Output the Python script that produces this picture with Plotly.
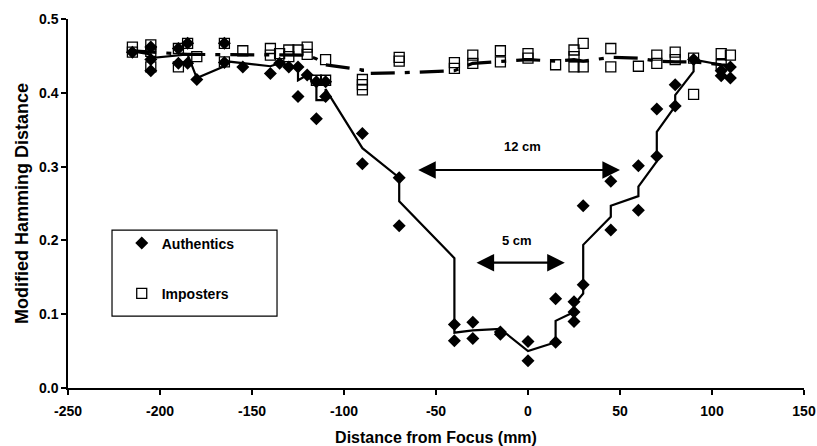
import plotly.graph_objects as go

# Authentics (filled diamonds)
auth_x = [-215, -205, -205, -205, -190, -190, -185, -185, -180, -165, -165, -155, -140, -135, -130,
          -125, -125, -120, -115, -115, -110, -110, -90, -90, -70, -70, -40, -40, -30, -30,
          -15, -15, 0, 0, 15, 15, 25, 25, 25, 30, 30, 45, 45, 60, 60, 70, 70, 80, 80, 90,
          105, 105, 110, 110]
auth_y = [0.455, 0.462, 0.445, 0.430, 0.460, 0.440, 0.467, 0.440, 0.418, 0.467, 0.441, 0.435, 0.426, 0.440, 0.435,
          0.435, 0.395, 0.424, 0.415, 0.365, 0.415, 0.395, 0.345, 0.304, 0.285, 0.220, 0.086, 0.064, 0.089, 0.067,
          0.076, 0.073, 0.063, 0.037, 0.121, 0.062, 0.117, 0.103, 0.090, 0.247, 0.140, 0.280, 0.214, 0.301, 0.241,
          0.378, 0.314, 0.411, 0.382, 0.445, 0.423, 0.430, 0.435, 0.420]

# Imposters (open squares)
imp_x = [-215, -215, -205, -205, -205, -190, -190, -185, -180, -165, -165, -155, -140, -140, -135,
         -130, -130, -125, -120, -120, -115, -110, -110, -90, -90, -90, -70, -70, -40, -40,
         -30, -30, -15, -15, 0, 0, 15, 25, 25, 25, 30, 30, 45, 45, 60, 70, 70, 80, 80,
         90, 90, 105, 105, 110]
imp_y = [0.462, 0.455, 0.465, 0.456, 0.435, 0.460, 0.435, 0.467, 0.449, 0.467, 0.442, 0.457, 0.460, 0.451, 0.453,
         0.458, 0.449, 0.458, 0.462, 0.452, 0.417, 0.445, 0.417, 0.418, 0.411, 0.404, 0.448, 0.443, 0.441, 0.433,
         0.451, 0.440, 0.457, 0.442, 0.453, 0.447, 0.438, 0.458, 0.449, 0.435, 0.467, 0.435, 0.460, 0.435, 0.436,
         0.451, 0.440, 0.455, 0.445, 0.447, 0.398, 0.453, 0.438, 0.451]

# Trend line through authentics
auth_line_x = [-215, -205, -205, -190, -185, -180, -165, -165, -155, -140, -135, -130, -125, -125, -120,
               -115, -115, -110, -110, -90, -70, -70, -40, -40, -30, -15, 0, 15, 15, 25, 25, 30, 30,
               45, 45, 60, 60, 70, 70, 80, 80, 90, 90, 105, 110]
auth_line_y = [0.456, 0.452, 0.447, 0.450, 0.452, 0.420, 0.436, 0.443, 0.440, 0.436, 0.440, 0.436, 0.434, 0.417, 0.424,
               0.408, 0.390, 0.390, 0.405, 0.325, 0.285, 0.253, 0.176, 0.075, 0.078, 0.080, 0.050, 0.062, 0.091, 0.103, 0.113, 0.128, 0.194,
               0.232, 0.247, 0.260, 0.273, 0.307, 0.347, 0.382, 0.397, 0.429, 0.445, 0.438, 0.434]

# Trend line through imposters (dashed)
imp_line_x = [-215, -205, -190, -185, -180, -165, -155, -140, -130, -120, -115, -110, -90, -90, -70,
              -40, -30, -15, 0, 15, 25, 30, 45, 60, 70, 80, 90, 105, 110]
imp_line_y = [0.457, 0.455, 0.453, 0.452, 0.452, 0.452, 0.452, 0.452, 0.451, 0.451, 0.446, 0.438, 0.431, 0.426, 0.427,
              0.430, 0.440, 0.443, 0.445, 0.443, 0.445, 0.443, 0.448, 0.447, 0.443, 0.442, 0.442, 0.438, 0.437]

x_ticks = [-250, -200, -150, -100, -50, 0, 50, 100, 150]
y_ticks = [0.0, 0.1, 0.2, 0.3, 0.4, 0.5]

FONT = "Liberation Sans, Arial, sans-serif"

fig = go.Figure()
fig.add_trace(go.Scatter(x=auth_x, y=auth_y, mode="markers", name="Authentics",
                         legendgroup="a",
                         marker=dict(symbol="diamond", size=10, color="black")))
fig.add_trace(go.Scatter(x=imp_x, y=imp_y, mode="markers", name="Imposters",
                         legendgroup="b",
                         marker=dict(symbol="square-open", size=10, color="black",
                                     line=dict(width=1.3, color="black"))))
fig.add_trace(go.Scatter(x=auth_line_x, y=auth_line_y, mode="lines", showlegend=False,
                         line=dict(color="black", width=2.2)))
fig.add_trace(go.Scatter(x=imp_line_x, y=imp_line_y, mode="lines", showlegend=False,
                         line=dict(color="black", width=3.2, dash="24px,10px,5px,10px")))

# legend box
fig.add_shape(type="rect", xref="paper", yref="paper", x0=0.0598, x1=0.284, y0=0.195, y1=0.428,
              line=dict(color="black", width=1.2), fillcolor="rgba(0,0,0,0)")

ann_font = dict(family=FONT, size=13, color="black", weight="bold")
fig.add_annotation(x=50, y=0.2954, ax=-60.5, ay=0.2954, xref="x", yref="y", axref="x", ayref="y",
                   text="", showarrow=True, arrowhead=2, startarrowhead=2, arrowside="end+start",
                   arrowsize=1.6, startarrowsize=1.6, arrowwidth=2.2, arrowcolor="black")
fig.add_annotation(x=-3, y=0.327, text="12 cm", showarrow=False, font=ann_font)
fig.add_annotation(x=20, y=0.1698, ax=-28.8, ay=0.1698, xref="x", yref="y", axref="x", ayref="y",
                   text="", showarrow=True, arrowhead=2, startarrowhead=2, arrowside="end+start",
                   arrowsize=1.6, startarrowsize=1.6, arrowwidth=2.2, arrowcolor="black")
fig.add_annotation(x=-6, y=0.1996, text="5 cm", showarrow=False, font=ann_font)

fig.update_layout(
    width=817, height=446,
    margin=dict(l=68, r=13, t=19, b=58, autoexpand=False),
    paper_bgcolor="white", plot_bgcolor="white",
    font=dict(family=FONT, size=13, color="black", weight="bold"),
    showlegend=True,
    legend=dict(x=0.073, y=0.435, xanchor="left", yanchor="top", bgcolor="rgba(0,0,0,0)",
                borderwidth=0, tracegroupgap=29, traceorder="grouped",
                font=dict(family=FONT, size=14, color="black", weight="bold")),
    xaxis=dict(range=[-250, 150], tickvals=x_ticks, ticktext=[str(v) for v in x_ticks],
               automargin=False,
               showgrid=False, zeroline=False, showline=True, linecolor="black", linewidth=1.5,
               ticks="outside", ticklen=5, tickwidth=1.5, tickcolor="black",
               ticklabelstandoff=4,
               tickfont=dict(family=FONT, size=14, weight="bold"),
               title=dict(text="Distance from Focus (mm)", standoff=14,
                          font=dict(family=FONT, size=16, weight="bold"))),
    yaxis=dict(range=[0, 0.5], tickvals=y_ticks, ticktext=[f"{v:.1f}" for v in y_ticks],
               automargin=False,
               showgrid=False, zeroline=False, showline=True, linecolor="black", linewidth=1.5,
               ticks="outside", ticklen=5, tickwidth=1.5, tickcolor="black",
               tickfont=dict(family=FONT, size=14, weight="bold"),
               title=dict(text="Modified Hamming Distance", standoff=6,
                          font=dict(family=FONT, size=18, weight="bold"))),
)

fig.write_html("out.html")
